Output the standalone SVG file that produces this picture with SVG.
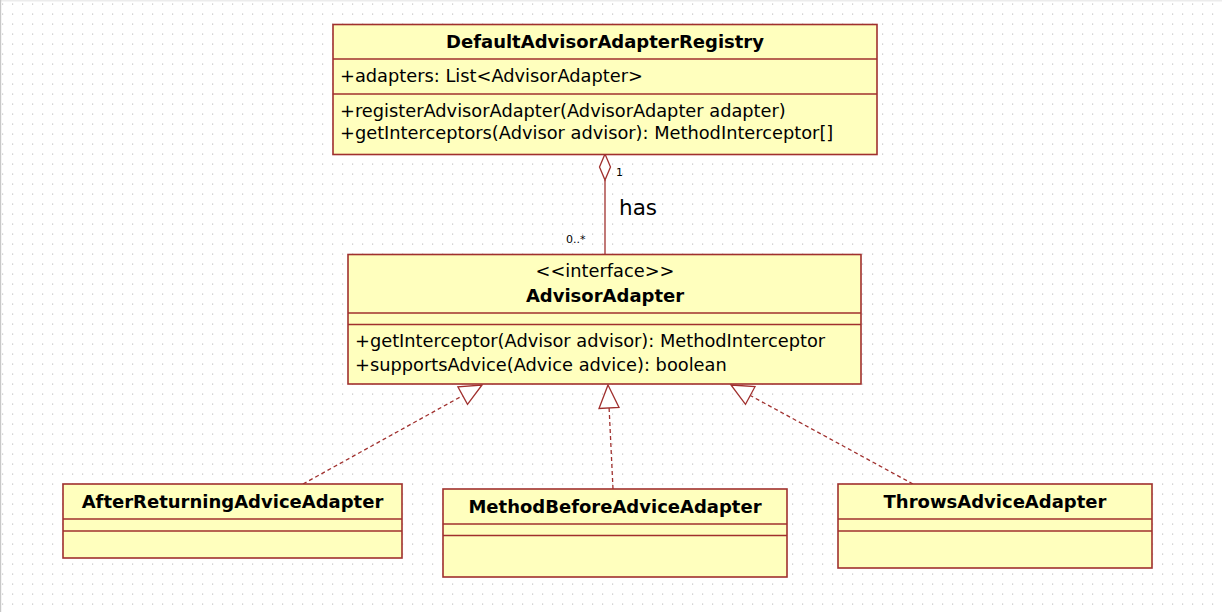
<svg xmlns="http://www.w3.org/2000/svg" width="1222" height="612" viewBox="0 0 1222 612">
<style>
.box{fill:#ffffbe;stroke:#a0302e;stroke-width:1.6}
.sep{stroke:#a0302e;stroke-width:1.6}
.t{font-family:"DejaVu Sans","Liberation Sans",sans-serif;font-size:17.8px;fill:#000}
.b{font-family:"DejaVu Sans","Liberation Sans",sans-serif;font-size:18px;font-weight:bold;fill:#000;text-anchor:middle}
.c{text-anchor:middle}
.ln{stroke:#a0302e;stroke-width:1.3;fill:none}
.dash{stroke:#a0302e;stroke-width:1.3;fill:none;stroke-dasharray:4 3}
.tri{fill:#ffffff;stroke:#a0302e;stroke-width:1.3}
.sm{font-family:"DejaVu Sans","Liberation Sans",sans-serif;font-size:11px;fill:#000}
</style>
<defs>
<pattern id="grid" patternUnits="userSpaceOnUse" width="10" height="10">
<rect x="2" y="3.5" width="1.2" height="1.2" fill="#c4c4c4"/>
</pattern>
</defs>
<rect x="0" y="0" width="1222" height="612" fill="#ffffff"/>
<rect x="0" y="0" width="1222" height="612" fill="url(#grid)"/>
<rect x="0" y="0" width="1222" height="1.5" fill="#ececec"/>
<rect x="0" y="0" width="1.2" height="612" fill="#c8c8c8"/>

<g id="connectors">
<line class="ln" x1="605" y1="180" x2="605" y2="254"/>
<polygon class="tri" points="605,154 610.5,167 605,180 599.5,167"/>
<text class="sm" x="616" y="176">1</text>
<text class="sm" x="566" y="243">0..*</text>
<text x="619" y="215" style="font-family:'DejaVu Sans','Liberation Sans',sans-serif;font-size:21.5px;fill:#000">has</text>

<line class="dash" x1="303" y1="484" x2="462.7" y2="395.6"/>
<polygon class="tri" points="482,385 467.5,404.4 457.9,386.9"/>

<line class="dash" x1="613" y1="489" x2="609.1" y2="408"/>
<polygon class="tri" points="608,385 619,407.5 599,408.5"/>

<line class="dash" x1="913" y1="484" x2="750.3" y2="395.5"/>
<polygon class="tri" points="731,385 755,386.7 745.5,404.3"/>
</g>

<g id="DefaultAdvisorAdapterRegistry">
<rect class="box" x="333" y="24.5" width="544" height="130"/>
<line class="sep" x1="333" y1="59" x2="877" y2="59"/>
<line class="sep" x1="333" y1="94" x2="877" y2="94"/>
<text class="b" x="605" y="48">DefaultAdvisorAdapterRegistry</text>
<text class="t" x="340" y="82">+adapters: List&lt;AdvisorAdapter&gt;</text>
<text class="t" x="340" y="117">+registerAdvisorAdapter(AdvisorAdapter adapter)</text>
<text class="t" x="340" y="139">+getInterceptors(Advisor advisor): MethodInterceptor[]</text>
</g>

<g id="AdvisorAdapter">
<rect class="box" x="348" y="254.5" width="513" height="129.5"/>
<line class="sep" x1="348" y1="313" x2="861" y2="313"/>
<line class="sep" x1="348" y1="324.5" x2="861" y2="324.5"/>
<text class="t c" x="605" y="277">&lt;&lt;interface&gt;&gt;</text>
<text class="b" x="605" y="302">AdvisorAdapter</text>
<text class="t" x="355" y="347">+getInterceptor(Advisor advisor): MethodInterceptor</text>
<text class="t" x="355" y="371">+supportsAdvice(Advice advice): boolean</text>
</g>

<g id="AfterReturningAdviceAdapter">
<rect class="box" x="63" y="484" width="339" height="74"/>
<line class="sep" x1="63" y1="519" x2="402" y2="519"/>
<line class="sep" x1="63" y1="531" x2="402" y2="531"/>
<text class="b" x="232.5" y="508">AfterReturningAdviceAdapter</text>
</g>

<g id="MethodBeforeAdviceAdapter">
<rect class="box" x="443" y="489" width="344" height="88"/>
<line class="sep" x1="443" y1="524" x2="787" y2="524"/>
<line class="sep" x1="443" y1="535.5" x2="787" y2="535.5"/>
<text class="b" x="615" y="513">MethodBeforeAdviceAdapter</text>
</g>

<g id="ThrowsAdviceAdapter">
<rect class="box" x="838" y="484" width="314" height="84"/>
<line class="sep" x1="838" y1="519" x2="1152" y2="519"/>
<line class="sep" x1="838" y1="531" x2="1152" y2="531"/>
<text class="b" x="995" y="508">ThrowsAdviceAdapter</text>
</g>
</svg>
